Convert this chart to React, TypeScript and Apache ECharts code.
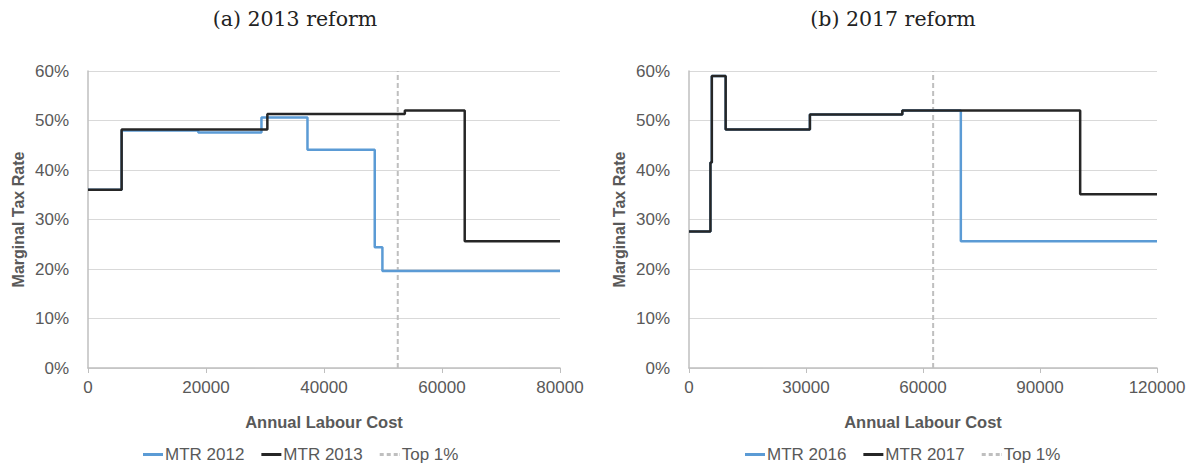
import React, { useEffect, useRef } from "react";
import * as echarts from "echarts";

// Left panel: 2013 reform (x = annual labour cost, y = marginal tax rate %)
const mtr2012: [number, number][] = [
  [0, 36], [5700, 48], [18700, 47.6], [29400, 50.6], [37200, 44.1],
  [48600, 24.4], [49900, 19.6], [80000, 19.6],
];
const mtr2013: [number, number][] = [
  [0, 36], [5700, 48.2], [30400, 51.3], [53700, 52], [63850, 25.6], [80000, 25.6],
];
const top1Left = 52500;

// Right panel: 2017 reform
const mtr2016: [number, number][] = [
  [0, 27.6], [5500, 41.5], [5850, 59], [9400, 48.2], [31000, 51.2],
  [54700, 52], [69700, 25.6], [120000, 25.6],
];
const mtr2017: [number, number][] = [
  [0, 27.6], [5500, 41.5], [5850, 59], [9400, 48.2], [31000, 51.2],
  [54700, 52], [100300, 35.1], [120000, 35.1],
];
const top1Right = 62600;

const titles = ["(a) 2013 reform", "(b) 2017 reform"];
const legendLeft = ["MTR 2012", "MTR 2013", "Top 1%"];
const legendRight = ["MTR 2016", "MTR 2017", "Top 1%"];

const GREY_TXT = "#595959";
const BLUE = "#5b9bd5";
const BLACK = "#262626";
const DASH = "#bfbfbf";

const SOLID_ICON = "path://M0,0h20v3h-20z";
const DASH_ICON = "path://M0,0h4v3h-4z M7,0h4v3h-4z M14,0h4v3h-4z M19.5,0h0.5v3h-0.5z";

export default function App() {
  const ref = useRef<HTMLDivElement>(null);
  useEffect(() => {
    if (!ref.current) return;
    const chart = echarts.init(ref.current, null, { renderer: "svg" });
    const font = "Liberation Sans";
    const yAxisBase = (gridIndex: number) => ({
      type: "value",
      gridIndex,
      min: 0,
      max: 60,
      interval: 10,
      name: "Marginal Tax Rate",
      nameLocation: "middle",
      nameGap: 62,
      nameTextStyle: { color: GREY_TXT, fontSize: 16, fontWeight: "bold", fontFamily: font },
      axisLine: { show: true, lineStyle: { color: DASH, width: 1.5 } },
      axisTick: { show: false },
      axisLabel: { formatter: "{value}%", color: GREY_TXT, fontSize: 17, fontFamily: font, margin: 19 },
      splitLine: { show: true, lineStyle: { color: "#d9d9d9", width: 1 } },
    });
    const xAxisBase = (gridIndex: number, max: number, interval: number) => ({
      type: "value",
      gridIndex,
      min: 0,
      max,
      interval,
      name: "Annual Labour Cost",
      nameLocation: "middle",
      nameGap: 45,
      nameTextStyle: { color: GREY_TXT, fontSize: 16.5, fontWeight: "bold", fontFamily: font },
      axisLine: { show: true, onZero: false, lineStyle: { color: DASH, width: 1.5 } },
      axisTick: { show: true, length: 5, lineStyle: { color: DASH } },
      axisLabel: {
        color: GREY_TXT,
        fontSize: 17,
        fontFamily: font,
        margin: 11,
        formatter: (v: number) => String(v),
      },
      splitLine: { show: false },
    });
    const stepSeries = (name: string, data: [number, number][], color: string, idx: number) => ({
      name,
      type: "line",
      xAxisIndex: idx,
      yAxisIndex: idx,
      step: "end",
      data,
      symbol: "none",
      lineStyle: { color, width: 2.5 },
      itemStyle: { color },
      z: 3,
    });
    const dashSeries = (x: number, idx: number) => ({
      name: "Top 1%",
      type: "line",
      xAxisIndex: idx,
      yAxisIndex: idx,
      data: [[x, 0], [x, 60]],
      symbol: "none",
      lineStyle: { color: DASH, width: 2, type: [5, 3] },
      itemStyle: { color: DASH },
      z: 2,
    });
    const legendBase = (left: number, names: string[]) => ({
      left,
      top: 441,
      data: names.map((n) => ({ name: n, icon: n === "Top 1%" ? DASH_ICON : SOLID_ICON })),
      itemWidth: 20,
      itemHeight: 3,
      itemGap: 17,
      selectedMode: false,
      textStyle: { color: GREY_TXT, fontSize: 17, fontFamily: font, padding: [0, 0, 0, -3] },
    });
    chart.setOption({
      animation: false,
      backgroundColor: "#ffffff",
      title: [
        {
          text: titles[0],
          left: 290,
          top: 3,
          textAlign: "center",
          textStyle: { fontFamily: "DejaVu Serif", fontSize: 20.5, fontWeight: "normal", color: "#222" },
        },
        {
          text: titles[1],
          left: 888,
          top: 3,
          textAlign: "center",
          textStyle: { fontFamily: "DejaVu Serif", fontSize: 20.5, fontWeight: "normal", color: "#222" },
        },
      ],
      grid: [
        { left: 88, top: 71, width: 472, height: 297, containLabel: false },
        { left: 689, top: 71, width: 468, height: 297, containLabel: false },
      ],
      xAxis: [xAxisBase(0, 80000, 20000), xAxisBase(1, 120000, 30000)],
      yAxis: [yAxisBase(0), yAxisBase(1)],
      legend: [legendBase(138, legendLeft), legendBase(740, legendRight)],
      series: [
        stepSeries("MTR 2012", mtr2012, BLUE, 0),
        stepSeries("MTR 2013", mtr2013, BLACK, 0),
        dashSeries(top1Left, 0),
        stepSeries("MTR 2016", mtr2016, BLUE, 1),
        stepSeries("MTR 2017", mtr2017, BLACK, 1),
        dashSeries(top1Right, 1),
      ],
    });
    return () => chart.dispose();
  }, []);
  return (
    <div
      ref={ref}
      style={{ position: "fixed", left: 0, top: 0, width: 1194, height: 468, background: "#fff" }}
    />
  );
}
